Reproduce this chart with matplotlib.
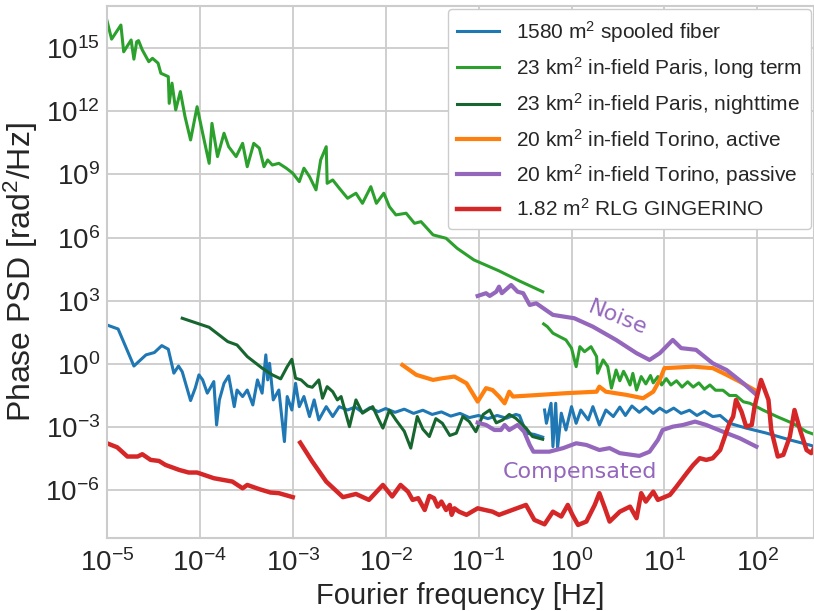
import numpy as np
import matplotlib
matplotlib.use('Agg')
import matplotlib.pyplot as plt

# ------------------------------------------------------------
# data (log10 of frequency [Hz] and log10 of phase PSD [rad^2/Hz])
# ------------------------------------------------------------
fiber_logf_a = [-5.00, -4.88, -4.71, -4.58, -4.49, -4.41, -4.34, -4.28, -4.23, -4.19,
                -4.10, -4.05, -4.01, -3.97, -3.92, -3.88, -3.85, -3.82, -3.79, -3.74,
                -3.69, -3.63, -3.60, -3.54, -3.49, -3.43, -3.38, -3.33, -3.29, -3.27,
                -3.25, -3.21, -3.15, -3.09, -3.06, -3.01, -2.97, -2.93, -2.88, -2.82,
                -2.77, -2.72, -2.64, -2.57, -2.50, -2.41, -2.33, -2.25, -2.17, -2.08,
                -2.00, -1.90, -1.80, -1.70, -1.60, -1.50, -1.40, -1.30, -1.20, -1.10,
                -1.00, -0.90, -0.80, -0.70, -0.60, -0.56, -0.52, -0.49, -0.40, -0.31]
fiber_logp_a = [1.85, 1.66, -0.10, 0.43, 0.54, 0.87, 0.70, -0.44, -0.10, -0.37,
                -1.74, -1.15, -0.52, -0.76, -1.39, -1.08, -0.84, -2.90, -1.71, -0.92,
                -0.57, -2.03, -1.24, -1.55, -1.24, -1.95, -0.76, -1.39, 0.43, -0.76,
                0.03, -1.71, -1.24, -3.69, -1.55, -2.19, -0.92, -2.03, -1.55, -2.50,
                -1.71, -2.66, -2.03, -2.50, -2.03, -2.19, -2.05, -2.30, -2.08, -2.27,
                -2.12, -2.30, -2.15, -2.35, -2.20, -2.40, -2.28, -2.48, -2.35, -2.55,
                -2.45, -2.60, -2.45, -2.58, -2.40, -2.45, -2.90, -3.29, -3.35, -3.48]
fiber_logf_b = [-0.29, -0.27, -0.22, -0.20, -0.17, -0.15, -0.11, -0.06, 0.00, 0.05,
                0.10, 0.18, 0.23, 0.30, 0.37, 0.45, 0.52, 0.58, 0.65, 0.73,
                0.80, 0.88, 0.95, 1.02, 1.10, 1.18, 1.27, 1.35, 1.43, 1.52,
                1.60, 1.70, 1.88, 2.10, 2.35, 2.56, 2.60]
fiber_logp_b = [-2.19, -2.82, -1.87, -3.93, -1.87, -4.00, -2.34, -3.14, -2.03, -2.82,
                -2.19, -2.66, -2.03, -2.90, -2.19, -2.50, -2.05, -2.45, -2.00, -2.30,
                -2.05, -2.35, -2.10, -2.30, -2.10, -2.35, -2.20, -2.45, -2.25, -2.50,
                -2.45, -2.82, -3.05, -3.29, -3.61, -3.85, -3.90]

paris_long_logf_a = [-5.00, -4.95, -4.85, -4.82, -4.74, -4.71, -4.68, -4.66, -4.62, -4.55,
                     -4.51, -4.45, -4.42, -4.34, -4.33, -4.30, -4.26, -4.21, -4.16, -4.10,
                     -4.03, -3.97, -3.90, -3.87, -3.81, -3.74, -3.69, -3.61, -3.54, -3.49,
                     -3.42, -3.36, -3.31, -3.27, -3.22, -3.15, -3.07, -3.00, -2.93, -2.88,
                     -2.82, -2.75, -2.70, -2.64, -2.63, -2.57, -2.50, -2.41, -2.32, -2.25,
                     -2.16, -2.10, -2.02, -1.96, -1.89, -1.78, -1.69, -1.62, -1.49, -1.35,
                     -1.23, -1.05, -0.78, -0.56, -0.31]
paris_long_logp_a = [16.31, 15.43, 16.10, 14.83, 15.39, 14.48, 15.31, 15.36, 14.92, 14.36,
                     14.52, 14.29, 13.81, 13.65, 12.38, 13.34, 12.07, 12.94, 11.75, 10.64,
                     12.22, 10.96, 9.53, 11.43, 9.85, 10.96, 10.32, 9.85, 10.48, 9.37,
                     10.48, 10.25, 9.37, 9.69, 9.45, 9.53, 9.30, 9.06, 8.66, 9.30,
                     8.90, 8.27, 9.69, 10.32, 8.58, 8.74, 8.35, 7.87, 8.11, 7.63,
                     8.42, 7.63, 8.11, 7.47, 7.08, 7.16, 6.68, 6.76, 6.13, 5.97,
                     5.49, 4.94, 4.42, 3.94, 3.43]
paris_long_logf_b = [-0.30, -0.26, -0.20, -0.13, -0.06, 0.00, 0.05, 0.09, 0.14, 0.21,
                     0.27, 0.28, 0.34, 0.39, 0.43, 0.48, 0.52, 0.56, 0.59, 0.63,
                     0.66, 0.70, 0.75, 0.80, 0.85, 0.88, 0.93, 0.97, 1.02, 1.07,
                     1.13, 1.19, 1.25, 1.31, 1.37, 1.43, 1.49, 1.55, 1.63, 1.70,
                     1.77, 1.85, 1.92, 2.06, 2.21, 2.38, 2.53, 2.60]
paris_long_logp_b = [1.90, 1.77, 1.46, 1.30, 1.14, 0.75, -0.13, 0.82, 0.58, 0.82,
                     0.35, -0.44, 0.19, -0.13, -1.15, -0.29, -0.80, -0.35, -0.60, -1.00,
                     -0.45, -1.24, -0.60, -0.95, -0.55, -0.90, -0.60, -1.00, -0.70, -1.00,
                     -0.80, -1.10, -0.85, -1.10, -0.90, -1.20, -1.00, -1.25, -1.25, -1.50,
                     -1.50, -1.80, -1.87, -2.19, -2.50, -2.82, -3.22, -3.33]

paris_night_logf = [-4.19, -3.90, -3.70, -3.60, -3.49, -3.33, -3.22, -3.13, -3.06, -3.01,
                    -2.97, -2.91, -2.84, -2.79, -2.72, -2.68, -2.63, -2.57, -2.52, -2.48,
                    -2.39, -2.32, -2.25, -2.14, -2.08, -2.03, -1.96, -1.89, -1.80, -1.73,
                    -1.66, -1.60, -1.53, -1.46, -1.39, -1.31, -1.24, -1.17, -1.10, -1.03,
                    -0.95, -0.88, -0.81, -0.74, -0.67, -0.60, -0.49, -0.42, -0.31]
paris_night_logp = [2.17, 1.74, 1.06, 0.90, 0.35, -0.20, -0.52, -0.71, -0.13, 0.22,
                    -0.68, -0.76, -1.05, -1.11, -0.76, -1.63, -1.08, -1.32, -1.71, -1.55,
                    -2.98, -1.71, -2.34, -2.03, -2.60, -3.05, -2.20, -2.66, -3.20, -4.00,
                    -2.50, -3.10, -3.45, -2.60, -2.82, -3.40, -3.29, -2.50, -2.74, -3.22,
                    -2.40, -2.19, -2.80, -2.66, -2.40, -2.58, -3.05, -3.45, -3.58]

torino_active_logf = [-1.82, -1.67, -1.49, -1.39, -1.26, -1.13, -1.01, -0.92, -0.85, -0.78,
                      -0.72, -0.67, -0.63, -0.34, -0.06, 0.27, 0.30, 0.37, 0.59, 0.77,
                      0.88, 0.95, 1.00, 1.31, 1.52, 1.67, 1.81, 1.97]
torino_active_logp = [-0.05, -0.52, -0.76, -0.68, -0.60, -0.92, -1.79, -1.15, -1.24, -1.55,
                      -1.87, -1.32, -1.55, -1.47, -1.39, -1.32, -1.08, -1.32, -1.47, -1.63,
                      -1.32, -0.76, -0.20, -0.13, -0.20, -0.52, -0.84, -1.24]

torino_noise_logf = [-1.01, -0.92, -0.88, -0.81, -0.78, -0.75, -0.65, -0.58, -0.52, -0.45,
                     -0.38, -0.20, 0.03, 0.23, 0.48, 0.70, 0.84, 0.95, 1.09, 1.18,
                     1.34, 1.52, 1.67, 1.85, 1.97]
torino_noise_logp = [3.23, 3.36, 3.23, 3.43, 3.67, 3.36, 3.75, 3.43, 3.36, 2.80,
                     2.88, 2.33, 2.17, 1.77, 1.14, 0.51, 0.19, 0.51, 1.14, 0.75,
                     0.67, 0.03, -0.29, -0.92, -1.39]
torino_comp_logf = [-1.01, -0.92, -0.83, -0.76, -0.72, -0.67, -0.58, -0.51, -0.45, -0.41,
                    -0.24, -0.09, 0.05, 0.16, 0.30, 0.41, 0.52, 0.73, 0.84, 0.93,
                    0.98, 1.09, 1.20, 1.33, 1.45, 1.63, 1.81, 1.99]
torino_comp_logp = [-2.79, -2.90, -3.14, -3.14, -2.90, -3.14, -2.90, -3.22, -3.85, -4.17,
                    -4.17, -4.00, -3.77, -3.85, -4.09, -4.00, -4.24, -4.37, -4.17, -3.61,
                    -3.14, -2.98, -2.90, -2.74, -2.90, -3.22, -3.53, -3.93]

rlg_logf_a = [-5.00, -4.89, -4.78, -4.67, -4.62, -4.53, -4.44, -4.37, -4.22, -4.12,
              -4.03, -3.85, -3.65, -3.54, -3.49, -3.36, -3.24, -3.15, -3.00]
rlg_logp_a = [-3.77, -3.96, -4.40, -4.40, -4.29, -4.56, -4.61, -4.80, -5.04, -5.16,
              -5.16, -5.43, -5.59, -5.91, -5.75, -5.95, -6.11, -6.14, -6.33]
rlg_logf_b = [-2.92, -2.79, -2.64, -2.46, -2.32, -2.18, -2.03, -1.93, -1.84, -1.76,
              -1.71, -1.65, -1.58, -1.53, -1.48, -1.44, -1.40, -1.35, -1.31, -1.29,
              -1.26, -1.21, -1.13, -1.01, -0.85, -0.78, -0.49, -0.40, -0.29, -0.20,
              -0.11, -0.04, 0.01, 0.07, 0.16, 0.25, 0.30, 0.36, 0.41, 0.52,
              0.63, 0.70, 0.75, 0.80, 0.88, 0.93, 1.06, 1.13, 1.24, 1.31,
              1.38, 1.45, 1.52, 1.60, 1.65, 1.70, 1.74, 1.77, 1.83, 1.88,
              1.94, 1.97, 2.04, 2.12, 2.15, 2.22, 2.28, 2.35, 2.40, 2.46,
              2.53, 2.58, 2.61]
rlg_logp_b = [-3.74, -4.64, -5.59, -6.33, -6.18, -6.46, -5.75, -6.30, -5.75, -6.07,
              -6.46, -6.38, -6.94, -6.27, -6.38, -6.78, -6.54, -6.94, -6.70, -7.17,
              -6.86, -7.02, -7.17, -6.86, -7.02, -7.17, -6.70, -7.41, -7.62, -7.02,
              -7.25, -6.70, -7.17, -7.65, -7.49, -6.70, -6.14, -6.86, -7.49, -7.02,
              -6.78, -7.33, -6.14, -6.54, -6.07, -6.46, -6.22, -5.83, -5.19, -4.80,
              -4.48, -4.56, -4.48, -4.09, -3.45, -2.82, -2.50, -1.71, -2.27, -2.98,
              -2.90, -2.03, -0.76, -1.71, -3.14, -4.40, -4.32, -3.45, -2.19, -3.14,
              -4.09, -4.24, -4.00]

labels = [r'1580 m$^2$ spooled fiber',
          r'23 km$^2$ in-field Paris, long term',
          r'23 km$^2$ in-field Paris, nighttime',
          r'20 km$^2$ in-field Torino, active',
          r'20 km$^2$ in-field Torino, passive',
          r'1.82 m$^2$ RLG GINGERINO']


def p10(v):
    return 10.0 ** np.asarray(v)


# ------------------------------------------------------------
# style
# ------------------------------------------------------------
plt.rcParams['font.family'] = ['Liberation Sans', 'DejaVu Sans']
plt.rcParams['mathtext.fontset'] = 'custom'
plt.rcParams['mathtext.rm'] = 'Liberation Sans'
plt.rcParams['mathtext.it'] = 'Liberation Sans:italic'

C_BLUE = '#1f77b4'
C_GREEN = '#2ca02c'
C_DGREEN = '#17662f'
C_ORANGE = '#ff7f0e'
C_PURPLE = '#9467bd'
C_RED = '#d62728'

fig = plt.figure(figsize=(8.14, 6.11), dpi=100)
ax = fig.add_axes([0.1314, 0.1195, 0.8686, 0.8705])

ax.plot(p10(fiber_logf_a), p10(fiber_logp_a), color=C_BLUE, lw=2.2, label=labels[0])
ax.plot(p10(fiber_logf_b), p10(fiber_logp_b), color=C_BLUE, lw=2.2)
ax.plot(p10(paris_long_logf_a), p10(paris_long_logp_a), color=C_GREEN, lw=2.2, label=labels[1])
ax.plot(p10(paris_long_logf_b), p10(paris_long_logp_b), color=C_GREEN, lw=2.2)
ax.plot(p10(paris_night_logf), p10(paris_night_logp), color=C_DGREEN, lw=2.2, label=labels[2])
ax.plot(p10(torino_active_logf), p10(torino_active_logp), color=C_ORANGE, lw=3, label=labels[3])
ax.plot(p10(torino_noise_logf), p10(torino_noise_logp), color=C_PURPLE, lw=3, label=labels[4])
ax.plot(p10(torino_comp_logf), p10(torino_comp_logp), color=C_PURPLE, lw=3)
ax.plot(p10(rlg_logf_a), p10(rlg_logp_a), color=C_RED, lw=3.2, label=labels[5])
ax.plot(p10(rlg_logf_b), p10(rlg_logp_b), color=C_RED, lw=3.2)

ax.text(10**0.50, 10**2.19, 'Noise', color=C_PURPLE, fontsize=16, rotation=-22,
        ha='center', va='center', family='DejaVu Sans')
ax.text(10**0.086, 10**-5.12, 'Compensated', color=C_PURPLE, fontsize=16,
        ha='center', va='center', family='DejaVu Sans')

ax.set_xscale('log')
ax.set_yscale('log')
ax.set_xlim(1e-5, 10**2.61)
ax.set_ylim(10**-8.27, 10**17.0)
ax.set_yticks([1e-6, 1e-3, 1e0, 1e3, 1e6, 1e9, 1e12, 1e15])
ax.minorticks_off()

ax.grid(True, color='#cccccc', lw=1.3)
ax.set_axisbelow(True)
for s in ax.spines.values():
    s.set_color('#cccccc')
    s.set_linewidth(1.5)
ax.tick_params(axis='both', which='both', length=0, labelsize=20, colors='#262626')
ax.tick_params(axis='y', pad=5)
ax.tick_params(axis='x', pad=8)

ax.set_xlabel('Fourier frequency [Hz]', fontsize=21, color='#262626', labelpad=4)
ax.set_ylabel(r'Phase PSD [rad$^2$/Hz]', fontsize=23, color='#262626', labelpad=4)

leg = ax.legend(loc='upper right', fontsize=15, frameon=True, fancybox=True,
                edgecolor='#cccccc', framealpha=1.0, handlelength=2.0,
                borderaxespad=0.15, labelspacing=0.5, borderpad=0.45)
for t in leg.get_texts():
    t.set_color('#262626')

fig.savefig('out.png', dpi=100)
